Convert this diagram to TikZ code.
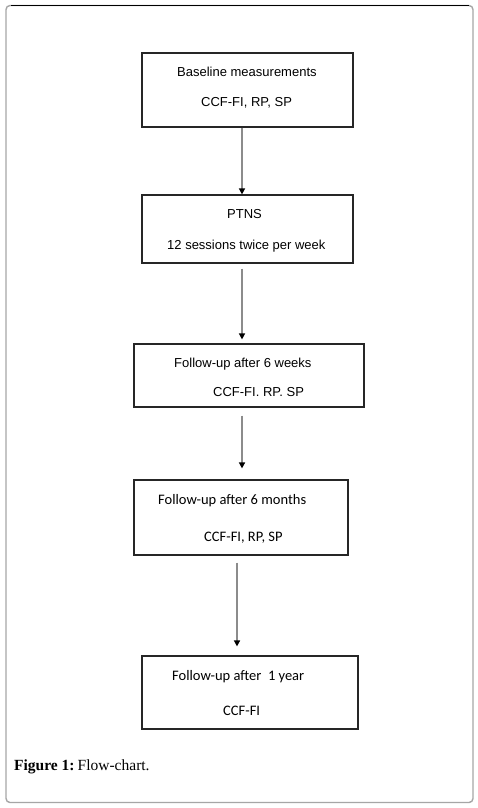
\documentclass[tikz,border=0pt]{standalone}
\usepackage{fontspec}
\setmainfont{Liberation Serif}
\newfontfamily\arialf{Liberation Sans}
\newfontfamily\calibrif{Carlito}
\usetikzlibrary{arrows.meta}
\definecolor{framegray}{HTML}{A6A6A6}
\definecolor{arrowgray}{HTML}{8C8C8C}
\definecolor{boxline}{HTML}{262626}
\begin{document}
\begin{tikzpicture}[x=1pt,y=-1pt,
  flowbox/.style={draw=boxline,line width=1.2pt,rectangle,inner sep=0pt},
  atext/.style={anchor=west,inner sep=0pt,text height=9pt,text depth=0pt,font=\arialf\fontsize{13}{15}\selectfont},
  ctext/.style={anchor=west,inner sep=0pt,text height=9.5pt,text depth=0pt,font=\calibrif\fontsize{14.5}{17}\selectfont},
  flowarrow/.style={draw=arrowgray,line width=1.5pt,-{Triangle[width=6pt,length=6pt,fill=black,color=black]}}]
\useasboundingbox (0,0) rectangle (477,808);
\fill[white] (0,0) rectangle (477,808);
% outer frame
\draw[framegray,line width=1.4pt,rounded corners=4pt] (6,5.5) rectangle (473,802.5);
\draw[black,line width=1pt] (11,5.5) -- (469,5.5);
% boxes
\node[flowbox,minimum width=211pt,minimum height=74pt] (b1) at (247.5,90) {};
\node[flowbox,minimum width=211pt,minimum height=68pt] (b2) at (247.5,229) {};
\node[flowbox,minimum width=230pt,minimum height=63pt] (b3) at (249,375.5) {};
\node[flowbox,minimum width=214pt,minimum height=75pt] (b4) at (241,517.5) {};
\node[flowbox,minimum width=216pt,minimum height=73pt] (b5) at (250,692.5) {};
% texts
\node[atext] (t1a) at (177,72) {Baseline measurements};
\node[atext] (t1b) at (201,102) {CCF-FI, RP, SP};
\node[atext] (t2a) at (227,214) {PTNS};
\node[atext] (t2b) at (167,245) {12 sessions twice per week};
\node[atext] (t3a) at (174,363) {Follow-up after 6 weeks};
\node[atext] (t3b) at (213,392) {CCF-FI. RP. SP};
\node[ctext] (t4a) at (158,500) {Follow-up after 6 months};
\node[ctext] (t4b) at (204,537) {CCF-FI, RP, SP};
\node[ctext] (t5a) at (172,676) {Follow-up after\ \ 1 year};
\node[ctext] (t5b) at (223,711) {CCF-FI};
% caption
\node[anchor=west,inner sep=0pt,text height=11pt,text depth=0pt,font=\fontsize{15.5}{19}\selectfont] (cap) at (14,765) {\textbf{Figure 1:}\hspace{0.2em}Flow-chart.};
% arrows
\coordinate (ax) at (242,0);
\coordinate (ay) at (237,0);
\draw[flowarrow] (b1.south -| ax) -- (b2.north -| ax);
\draw[flowarrow,shorten <=5pt,shorten >=4pt] (b2.south -| ax) -- (b3.north -| ax);
\draw[flowarrow,shorten <=8pt,shorten >=11pt] (b3.south -| ax) -- (b4.north -| ax);
\draw[flowarrow,shorten <=7pt,shorten >=9pt] (b4.south -| ay) -- (b5.north -| ay);
\end{tikzpicture}
\end{document}
